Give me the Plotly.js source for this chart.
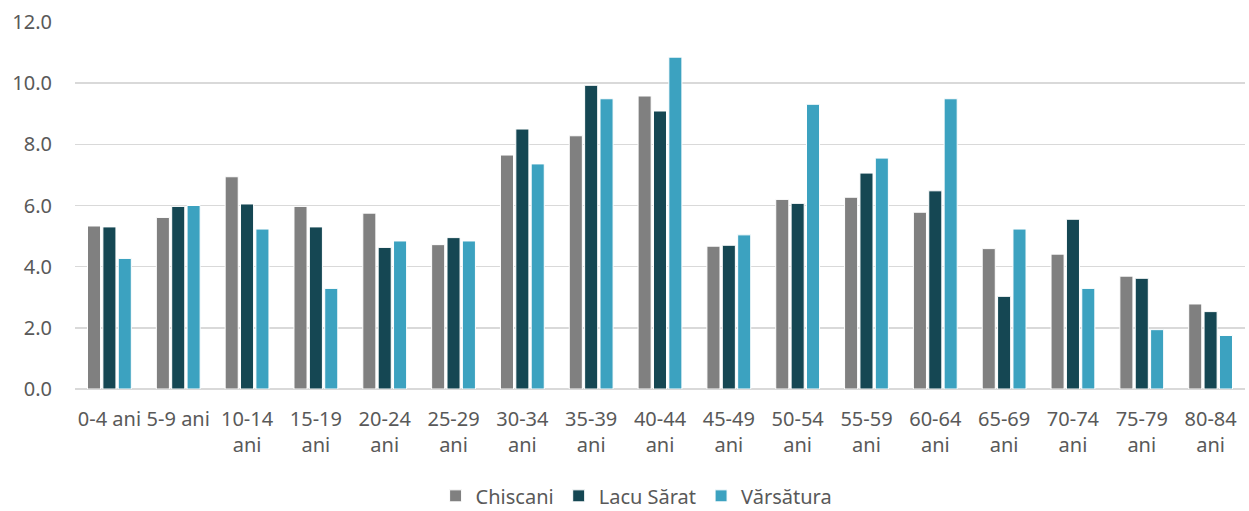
<!DOCTYPE html>
<html><head><meta charset="utf-8">
<script src="https://cdn.plot.ly/plotly-3.0.1.min.js"></script>
<style>body{margin:0}#c{width:1249px;height:511px}</style>
</head><body><div id="c"></div>
<script>
const categories = ["0-4 ani","5-9 ani","10-14<br>ani","15-19<br>ani","20-24<br>ani","25-29<br>ani","30-34<br>ani","35-39<br>ani","40-44<br>ani","45-49<br>ani","50-54<br>ani","55-59<br>ani","60-64<br>ani","65-69<br>ani","70-74<br>ani","75-79<br>ani","80-84<br>ani"];
const chiscani   = [5.33,5.61,6.94,5.97,5.75,4.72,7.65,8.28,9.58,4.67,6.20,6.27,5.78,4.59,4.41,3.69,2.78];
const lacuSarat  = [5.30,5.97,6.05,5.30,4.63,4.95,8.50,9.93,9.09,4.70,6.07,7.06,6.48,3.03,5.55,3.62,2.53];
const varsatura  = [4.27,6.00,5.23,3.29,4.84,4.84,7.36,9.49,10.85,5.04,9.31,7.55,9.49,5.23,3.29,1.94,1.75];
const seriesNames = ["Chiscani","Lacu Sărat","Vărsătura"];
const seriesColors = ["#808080","#154753","#3ca2c0"];
const yTicks = [0,2,4,6,8,10,12];

const font = "'Noto Sans', 'Open Sans', sans-serif";
const traces = [chiscani, lacuSarat, varsatura].map((v,i)=>({
  type:'bar', x:categories, y:v, name:seriesNames[i],
  marker:{color:seriesColors[i], line:{color:'#ffffff', width:1}}
}));
Plotly.newPlot('c', traces, {
  width:1249, height:511,
  margin:{l:75, r:4, t:22, b:122, autoexpand:false},
  barmode:'group', bargap:0.33, bargroupgap:0.15,
  paper_bgcolor:'#fff', plot_bgcolor:'#fff',
  font:{family:font, size:20, color:'#595959'},
  xaxis:{automargin:false, tickfont:{size:20, color:'#595959'}, showgrid:false, zeroline:false, showline:false, ticks:'', ticklabelstandoff:16},
  yaxis:{automargin:false, range:[0,12], tickvals:yTicks, ticktext:yTicks.map(t=>t.toFixed(1)),
    showgrid:true, gridcolor:'#d9d9d9', gridwidth:1.5, zeroline:true, zerolinecolor:'#d9d9d9', zerolinewidth:1.5,
    ticklabelstandoff:22, tickfont:{size:20, color:'#595959'}},
  legend:{orientation:'h', x:0.48, xanchor:'center', y:-0.238, yanchor:'top', font:{size:20, color:'#595959'}, itemwidth:30},
  showlegend:true
}, {displayModeBar:false, staticPlot:true});
</script></body></html>
